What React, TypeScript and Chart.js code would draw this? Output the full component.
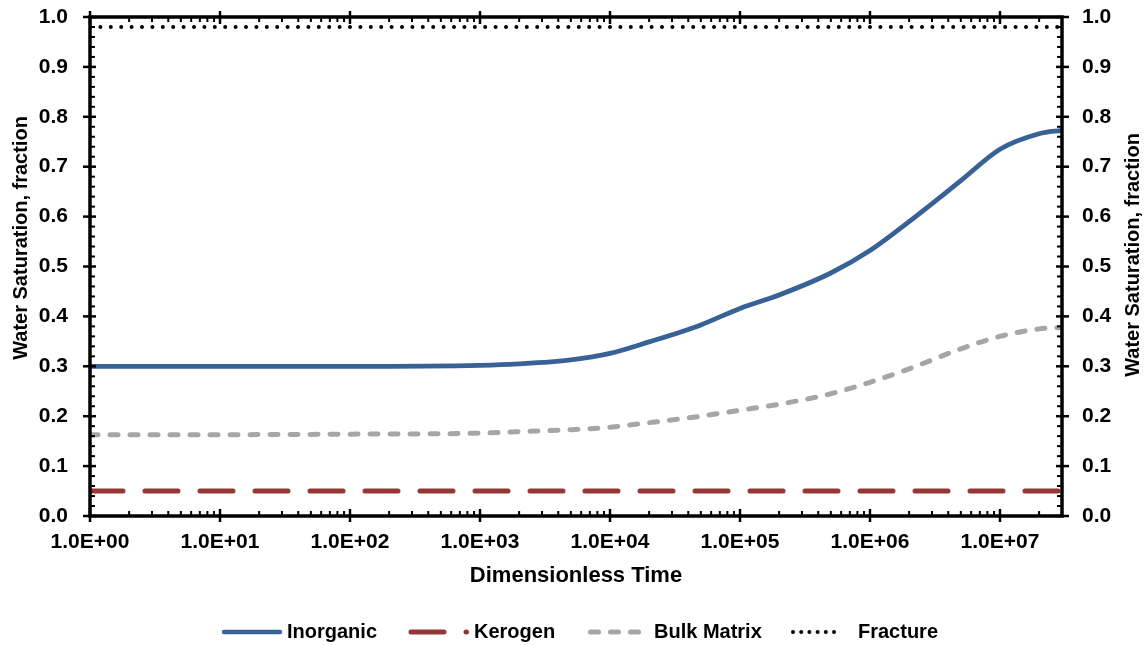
import { useEffect, useRef } from "react";
import { Chart, registerables } from "chart.js";

Chart.register(...registerables);

const FONT = '"Liberation Sans", Arial, Helvetica, sans-serif';

// Dimensionless time samples for the matrix curves (log axis)
const timeSteps = [1, 10, 100, 1e3, 2e3, 5e3, 1e4, 2e4, 5e4, 1e5, 2e5, 5e5, 1e6, 2e6, 5e6, 1e7, 2e7, 3e7];
const inorganicSw = [0.300, 0.300, 0.300, 0.302, 0.305, 0.313, 0.326, 0.349, 0.383, 0.416, 0.443, 0.487, 0.532, 0.590, 0.672, 0.735, 0.766, 0.773];
const bulkMatrixSw = [0.163, 0.163, 0.164, 0.166, 0.169, 0.173, 0.178, 0.187, 0.200, 0.212, 0.224, 0.245, 0.268, 0.295, 0.335, 0.360, 0.375, 0.378];

// Constant-saturation series
const flatTimes = [1, 3e7];
const kerogenSw = [0.05, 0.05];
const fractureSw = [0.98, 0.98];

// Axis ticks
const xTickValues = [1, 1e1, 1e2, 1e3, 1e4, 1e5, 1e6, 1e7];
const xTickLabels = ["1.0E+00", "1.0E+01", "1.0E+02", "1.0E+03", "1.0E+04", "1.0E+05", "1.0E+06", "1.0E+07"];
const yTickValues = [0, 0.1, 0.2, 0.3, 0.4, 0.5, 0.6, 0.7, 0.8, 0.9, 1.0];
const yTickLabels = ["0.0", "0.1", "0.2", "0.3", "0.4", "0.5", "0.6", "0.7", "0.8", "0.9", "1.0"];

const X_TITLE = "Dimensionless Time";
const Y_TITLE = "Water Saturation, fraction";

const COLORS = {
  inorganic: "#386296",
  kerogen: "#953735",
  bulk: "#A6A6A6",
  fracture: "#000000",
};

const legendItems = [
  { label: "Inorganic", color: COLORS.inorganic, width: 4.5, dash: [] as number[], cap: "round" as CanvasLineCap, from: 224, to: 280, text: 287 },
  { label: "Kerogen", color: COLORS.kerogen, width: 5, dash: [33, 22], cap: "round" as CanvasLineCap, from: 411, to: 466.5, text: 474 },
  { label: "Bulk Matrix", color: COLORS.bulk, width: 5, dash: [8, 12], cap: "round" as CanvasLineCap, from: 590.5, to: 640, text: 654 },
  { label: "Fracture", color: COLORS.fracture, width: 4, dash: [0, 8.2], cap: "round" as CanvasLineCap, from: 793, to: 835, text: 858 },
];

const pts = (xs: number[], ys: number[]) => xs.map((x, i) => ({ x, y: ys[i] }));

const framePlugin = {
  id: "frameAndLegend",
  afterDraw(chart: any) {
    const { ctx, chartArea: a, scales } = chart;
    const xs = scales.x;
    const ys = scales.y;
    const seg = (x1: number, y1: number, x2: number, y2: number) => {
      ctx.beginPath();
      ctx.moveTo(x1, y1);
      ctx.lineTo(x2, y2);
      ctx.stroke();
    };
    ctx.save();
    ctx.strokeStyle = "#000";
    ctx.lineCap = "butt";

    // x ticks (bottom and top), majors crossing, minors inward
    for (let e = 0; e <= 8; e++) {
      for (let m = 1; m <= 9; m++) {
        const v = m * Math.pow(10, e);
        if (v > xs.max * 1.0001) break;
        const px = xs.getPixelForValue(v);
        if (m === 1) {
          ctx.lineWidth = 2.5;
          seg(px, a.bottom - 7, px, a.bottom + 6);
          seg(px, a.top - 6, px, a.top + 7);
        } else {
          ctx.lineWidth = 2;
          seg(px, a.bottom, px, a.bottom - 5);
          seg(px, a.top, px, a.top + 5);
        }
      }
    }
    // y ticks (left and right)
    for (let k = 0; k <= 50; k++) {
      const v = k / 50;
      const py = ys.getPixelForValue(v);
      if (k % 5 === 0) {
        ctx.lineWidth = 2.5;
        seg(a.left - 7, py, a.left + 6, py);
        seg(a.right - 6, py, a.right + 7, py);
      } else {
        ctx.lineWidth = 2;
        seg(a.left, py, a.left + 5, py);
        seg(a.right, py, a.right - 5, py);
      }
    }
    // frame
    ctx.lineWidth = 3.5;
    ctx.strokeRect(a.left, a.top, a.right - a.left, a.bottom - a.top);

    // axis titles
    ctx.fillStyle = "#000";
    ctx.textAlign = "center";
    ctx.textBaseline = "middle";
    ctx.font = `bold 22px ${FONT}`;
    ctx.fillText(X_TITLE, (a.left + a.right) / 2, 576);
    ctx.font = `bold 20px ${FONT}`;
    ctx.save();
    ctx.translate(21, 238);
    ctx.rotate(-Math.PI / 2);
    ctx.fillText(Y_TITLE, 0, 0);
    ctx.restore();
    ctx.save();
    ctx.translate(1133, 255);
    ctx.rotate(-Math.PI / 2);
    ctx.fillText(Y_TITLE, 0, 0);
    ctx.restore();

    // legend
    const ly = 632;
    ctx.textAlign = "left";
    legendItems.forEach((it) => {
      ctx.save();
      ctx.strokeStyle = it.color;
      ctx.lineWidth = it.width;
      ctx.lineCap = it.cap;
      ctx.setLineDash(it.dash);
      seg(it.from, ly, it.to, ly);
      ctx.restore();
      ctx.fillStyle = "#000";
      ctx.fillText(it.label, it.text, ly);
    });
    ctx.restore();
  },
};

// Fixed axis box sizes so the plot area lands at a known place
const fixVertical = (width: number) => (s: any) => {
  s.width = width;
  s.paddingTop = 0;
  s.paddingBottom = 0;
};

export default function App() {
  const canvasRef = useRef<HTMLCanvasElement>(null);

  useEffect(() => {
    const canvas = canvasRef.current;
    if (!canvas) return;
    const tickFont = { family: FONT, size: 21, weight: "bold" as const };
    const chart = new Chart(canvas, {
      type: "scatter",
      data: {
        datasets: [
          {
            label: "Inorganic",
            data: pts(timeSteps, inorganicSw),
            showLine: true,
            borderColor: COLORS.inorganic,
            borderWidth: 4.8,
            cubicInterpolationMode: "monotone",
            pointRadius: 0,
          },
          {
            label: "Kerogen",
            data: pts(flatTimes, kerogenSw),
            showLine: true,
            borderColor: COLORS.kerogen,
            borderWidth: 5,
            borderDash: [33, 22],
            borderCapStyle: "round",
            pointRadius: 0,
          },
          {
            label: "Bulk Matrix",
            data: pts(timeSteps, bulkMatrixSw),
            showLine: true,
            borderColor: COLORS.bulk,
            borderWidth: 5,
            borderDash: [8, 12],
            borderCapStyle: "round",
            cubicInterpolationMode: "monotone",
            pointRadius: 0,
          },
          {
            label: "Fracture",
            data: pts(flatTimes, fractureSw),
            showLine: true,
            borderColor: COLORS.fracture,
            borderWidth: 4,
            borderDash: [0, 10.4],
            borderCapStyle: "round",
            pointRadius: 0,
          },
        ],
      },
      options: {
        animation: false,
        responsive: true,
        maintainAspectRatio: false,
        layout: { padding: { top: 17, left: 0, right: 0, bottom: 0 } },
        plugins: { legend: { display: false }, tooltip: { enabled: false } },
        scales: {
          x: {
            type: "logarithmic",
            position: "bottom",
            min: 1,
            max: 3e7,
            afterBuildTicks: (s: any) => {
              s.ticks = xTickValues.map((value) => ({ value }));
            },
            afterFit: (s: any) => {
              s.height = 129;
              s.paddingLeft = 0;
              s.paddingRight = 0;
            },
            grid: { display: false, drawTicks: false },
            border: { display: false },
            ticks: {
              autoSkip: false,
              maxRotation: 0,
              minRotation: 0,
              padding: 14,
              color: "#000",
              font: tickFont,
              callback: (_v: any, i: number) => xTickLabels[i],
            },
          },
          y: {
            type: "linear",
            position: "left",
            min: 0,
            max: 1,
            afterBuildTicks: (s: any) => {
              s.ticks = yTickValues.map((value) => ({ value }));
            },
            afterFit: fixVertical(90),
            grid: { display: false, drawTicks: false },
            border: { display: false },
            ticks: {
              padding: 22,
              color: "#000",
              font: tickFont,
              callback: (_v: any, i: number) => yTickLabels[i],
            },
          },
          y2: {
            type: "linear",
            position: "right",
            min: 0,
            max: 1,
            afterBuildTicks: (s: any) => {
              s.ticks = yTickValues.map((value) => ({ value }));
            },
            afterFit: fixVertical(84),
            grid: { display: false, drawTicks: false },
            border: { display: false },
            ticks: {
              padding: 20,
              color: "#000",
              font: tickFont,
              callback: (_v: any, i: number) => yTickLabels[i],
            },
          },
        },
      },
      plugins: [framePlugin],
    });
    return () => chart.destroy();
  }, []);

  return (
    <div style={{ position: "absolute", left: 0, top: 0, width: 1146, height: 645, background: "#fff" }}>
      <canvas ref={canvasRef} />
    </div>
  );
}
